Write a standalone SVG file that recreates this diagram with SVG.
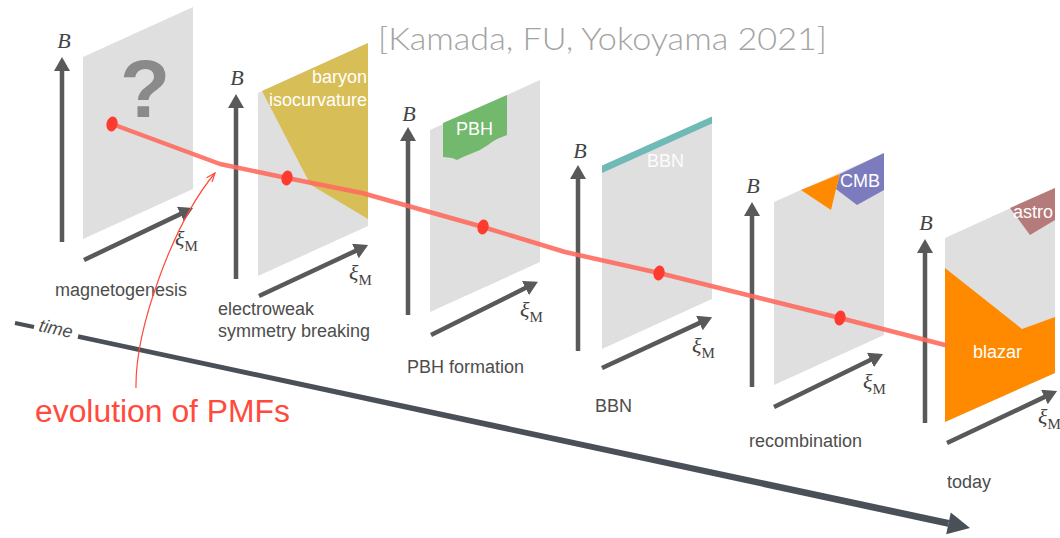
<svg xmlns="http://www.w3.org/2000/svg" width="1060" height="538" viewBox="0 0 1060 538">
<defs>
<style>
.panel{fill:#dfdfdf}
.axis{stroke:#595959;stroke-width:4.5;fill:none;marker-end:url(#ah)}
.lbl{font-family:"Liberation Sans",Arial,sans-serif;font-size:18px;fill:#4d4d4d}
.in{font-family:"Liberation Sans",Arial,sans-serif;font-size:18px;fill:#ffffff}
.B{font-family:"Liberation Serif","Times New Roman",serif;font-style:italic;font-size:22px;fill:#444444;text-anchor:middle}
.xi{font-family:"Liberation Serif","Times New Roman",serif;font-style:italic;font-size:22px;fill:#444444}
.sub{font-style:normal;font-size:15px}
.dot{fill:#ff3b30}
</style>
<marker id="ah" viewBox="0 0 14 16" refX="1" refY="8" markerWidth="14" markerHeight="16" markerUnits="userSpaceOnUse" orient="auto">
<path d="M0,0 L14,8 L0,16 Z" fill="#595959"/>
</marker>
<marker id="rah" viewBox="0 0 10 8" refX="9" refY="4" markerWidth="10" markerHeight="8" markerUnits="userSpaceOnUse" orient="auto">
<path d="M0,0.5 L9,4 L0,7.5" fill="none" stroke="#ff4a3d" stroke-width="1.2"/>
</marker>
</defs>
<rect width="1060" height="538" fill="#ffffff"/>

<text x="378" y="50" font-family="Lato,'Liberation Sans',sans-serif" font-weight="300" font-size="31" fill="#a3a3a3" textLength="449" lengthAdjust="spacingAndGlyphs">[Kamada, FU, Yokoyama 2021]</text>

<g id="time-axis">
<line x1="15" y1="323" x2="34" y2="327" stroke="#4a5058" stroke-width="4"/>
<polygon points="78.46,334.35 949.23,519.98 947.77,526.82 77.54,338.65" fill="#4a5058"/>
<polygon points="970,528 950.8,512.6 946.2,534.2" fill="#4a5058"/>
<text x="38" y="331" transform="rotate(12 38 331)" font-family="'Liberation Sans',Arial,sans-serif" font-style="italic" font-size="18" fill="#4d4d4d">time</text>
</g>

<g id="magnetogenesis">
<polygon class="panel" points="83,57 193,7 193,189 83,239"/>
<text x="145" y="117" text-anchor="middle" font-family="'Liberation Sans',Arial,sans-serif" font-weight="bold" font-size="82" fill="#8a8a8a">?</text>
<line class="axis" x1="62" y1="242" x2="62" y2="70"/>
<text class="B" x="64" y="48">B</text>
<line class="axis" x1="84" y1="260" x2="181.3" y2="213.6"/>
<text class="xi" x="175" y="246">ξ<tspan class="sub" dy="5">M</tspan></text>
<text class="lbl" x="55" y="296">magnetogenesis</text>
</g>

<g id="electroweak">
<polygon class="panel" points="258,93 368,43 368,226 258,276"/>
<polygon points="262,91 368,43 368,219 311,185 306,176" fill="#d8be56"/>
<text class="in" x="367" y="83" text-anchor="end">baryon</text>
<text class="in" x="367" y="106" text-anchor="end">isocurvature</text>
<line class="axis" x1="236" y1="279" x2="236" y2="107"/>
<text class="B" x="237" y="85">B</text>
<line class="axis" x1="259" y1="296" x2="356.3" y2="250.6"/>
<text class="xi" x="349" y="280">ξ<tspan class="sub" dy="5">M</tspan></text>
<text class="lbl" x="218" y="315">electroweak</text>
<text class="lbl" x="218" y="337">symmetry breaking</text>
</g>

<g id="pbh-formation">
<polygon class="panel" points="430,130 540,80 540,262 430,312"/>
<polygon points="443,123 507,95 507,135 497,139 492,142 488,145 480,150 463,157 457,160 452,158 443,157" fill="#73b96d"/>
<text class="in" x="456" y="135">PBH</text>
<line class="axis" x1="408" y1="315" x2="408" y2="140"/>
<text class="B" x="409" y="121">B</text>
<line class="axis" x1="431" y1="335" x2="526.3" y2="287.6"/>
<text class="xi" x="520" y="317">ξ<tspan class="sub" dy="5">M</tspan></text>
<text class="lbl" x="407" y="373">PBH formation</text>
</g>

<g id="bbn">
<polygon class="panel" points="602,169 712,119 712,299 602,349"/>
<polygon points="602,165.5 712,116.5 712,123.5 602,173" fill="#6fb9b6"/>
<text class="in" x="647" y="167" opacity="0.9">BBN</text>
<line class="axis" x1="578" y1="351" x2="578" y2="178"/>
<text class="B" x="580" y="158">B</text>
<line class="axis" x1="602" y1="368" x2="700.3" y2="322.6"/>
<text class="xi" x="692" y="353">ξ<tspan class="sub" dy="5">M</tspan></text>
<text class="lbl" x="595" y="412">BBN</text>
</g>

<g id="recombination">
<polygon class="panel" points="774,202 884,153 884,335 774,385"/>
<polygon points="840,174 884,153 884,190 857,205 836,189" fill="#7b7bbd"/>
<polygon points="801,190 840,174 836,189 831,210" fill="#ff8a00"/>
<text class="in" x="840" y="187">CMB</text>
<line class="axis" x1="752" y1="387" x2="752" y2="215"/>
<text class="B" x="753" y="193">B</text>
<line class="axis" x1="774" y1="407" x2="871.3" y2="359.6"/>
<text class="xi" x="863" y="389">ξ<tspan class="sub" dy="5">M</tspan></text>
<text class="lbl" x="749" y="447">recombination</text>
</g>

<g id="today">
<polygon class="panel" points="945,238 1055,188 1055,373 945,422"/>
<polygon points="1010,208 1055,188 1055,220 1030,235" fill="#b57a7a"/>
<text class="in" x="1013" y="218">astro</text>
<polygon points="945,268 1022,329 1055,317 1055,373 945,422" fill="#ff8a00"/>
<text class="in" x="973" y="358">blazar</text>
<line class="axis" x1="925" y1="423" x2="925" y2="252"/>
<text class="B" x="926" y="230">B</text>
<line class="axis" x1="947" y1="443" x2="1045.3" y2="396.6"/>
<text class="xi" x="1038" y="424">ξ<tspan class="sub" dy="5">M</tspan></text>
<text class="lbl" x="947" y="488">today</text>
</g>

<g id="connectors">
<path d="M112,124 L220,164 L287,178 L362,193 L483,227 L565,252 L659,273 L840,318 L945,345" fill="none" stroke="#ff6b5e" stroke-width="4.5" stroke-linejoin="round" stroke-linecap="round" opacity="0.9"/>
<path d="M136,388 C135,330 172,225 215,173" fill="none" stroke="#ff4a3d" stroke-width="1.2" marker-end="url(#rah)"/>
<ellipse class="dot" cx="112" cy="124" rx="5.5" ry="7.5" transform="rotate(15 112 124)"/>
<ellipse class="dot" cx="287" cy="178" rx="5.5" ry="7.5" transform="rotate(15 287 178)"/>
<ellipse class="dot" cx="483" cy="227" rx="5.5" ry="7.5" transform="rotate(15 483 227)"/>
<ellipse class="dot" cx="659" cy="273" rx="5.5" ry="7.5" transform="rotate(15 659 273)"/>
<ellipse class="dot" cx="840" cy="318" rx="5.5" ry="7.5" transform="rotate(15 840 318)"/>
</g>

<text x="35" y="422" font-family="'Liberation Sans',Arial,sans-serif" font-size="31" fill="#ff4a3d" textLength="255" lengthAdjust="spacingAndGlyphs">evolution of PMFs</text>
</svg>
